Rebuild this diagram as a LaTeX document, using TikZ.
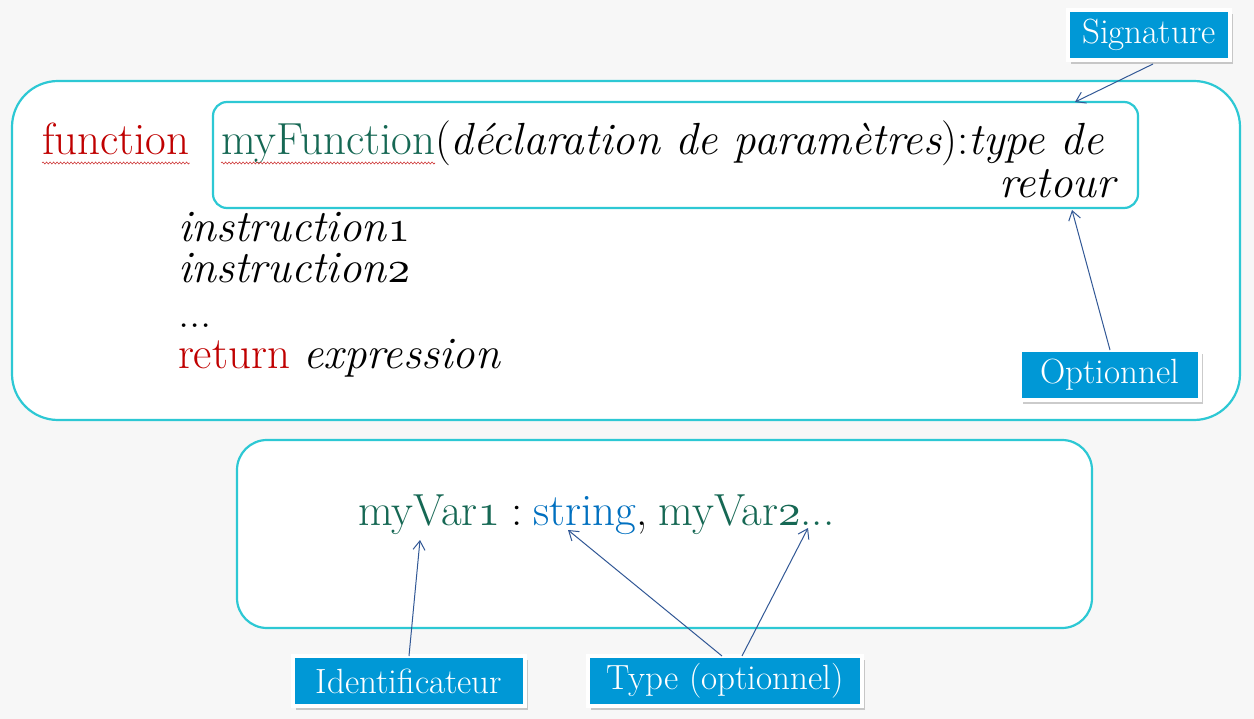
\documentclass[tikz,border=0pt]{standalone}
\usepackage{fontspec}
\usetikzlibrary{arrows.meta,shadows,calc,decorations.pathmorphing}
\definecolor{bgray}{RGB}{247,247,247}
\definecolor{frame}{RGB}{45,200,212}
\definecolor{kwred}{RGB}{192,0,0}
\definecolor{idgreen}{RGB}{22,104,84}
\definecolor{tyblue}{RGB}{0,112,192}
\definecolor{lblblue}{RGB}{0,152,214}
\definecolor{arrblue}{RGB}{50,88,150}
% old-style digits, scalable to any size
\DeclareFontShape{OML}{cmm}{m}{it}{<->cmmi10}{}
\newcommand{\osd}[1]{{\usefont{OML}{cmm}{m}{it}#1}}
\tikzset{
  every node/.style={inner sep=0pt, outer sep=0pt},
  panel/.style={draw=frame, line width=2.2pt, fill=white},
  sigframe/.style={draw=frame, line width=2.2pt, rounded corners=14pt},
  lbl/.style={fill=lblblue, draw=white, line width=3.5pt, text=white,
    font=\fontsize{35}{40}\selectfont, inner xsep=12pt,
    minimum height=50pt,
    drop shadow={shadow xshift=3pt, shadow yshift=-4pt, fill=black!40, opacity=0.5}},
  arr/.style={draw=arrblue, line width=1pt, -{Straight Barb[length=9pt,width=12pt]}},
  code/.style={anchor=base west, font=\fontsize{45}{50}\selectfont},
  squiggle/.style={draw=kwred!80, line width=0.6pt,
    decorate, decoration={snake, amplitude=1pt, segment length=3.5pt}}
}
\begin{document}
\begin{tikzpicture}[x=1pt,y=-1pt]
  \useasboundingbox (0,0) rectangle (1254,719);
  \fill[bgray] (0,0) rectangle (1254,719);

  % function panel
  \draw[panel, rounded corners=46pt] (12,81) rectangle (1240,420);
  \node[sigframe, minimum width=925pt, minimum height=106pt] (sig) at (675.5,155) {};

  % signature line
  \node[code, text=kwred] (fn) at (42,155) {function};
  \node[code, text=idgreen] (mf) at (221,155) {myFunction};
  \node[code] (params) at (mf.base east)
    {(\textit{déclaration de paramètres}):\textit{type de}};
  \node[code, anchor=base east] (ret) at (1118,198) {\textit{retour}};
  \draw[squiggle] ($(fn.base west)+(0,8)$) -- ($(fn.base east)+(0,8)$);
  \draw[squiggle] ($(mf.base west)+(0,8)$) -- ($(mf.base east)+(0,8)$);

  % body
  \node[code] (i1) at (178,242) {\textit{instruction}\osd{1}};
  \node[code] (i2) at (178,283) {\textit{instruction}\osd{2}};
  \node[code] (dots) at (178,328) {...};
  \node[code] (rt) at (178,369) {\textcolor{kwred}{return} \textit{expression}};

  % declaration panel
  \draw[panel, rounded corners=30pt] (237,440) rectangle (1092,628);
  \node[code, text=idgreen] (v1) at (358,525) {myVar\osd{1}};
  \node[code] (col) at ($(v1.base east)+(11,0)$) {:};
  \node[code, text=tyblue] (st) at ($(col.base east)+(11,0)$) {string};
  \node[code] (cm) at (st.base east) {,};
  \node[code, text=idgreen] (v2) at ($(cm.base east)+(11,0)$) {myVar\osd{2}...};

  % callout labels
  \node[lbl, minimum width=162pt] (siglbl) at (1149,35) {Signature};
  \node[lbl, minimum width=180pt] (optlbl) at (1110,375) {Optionnel};
  \node[lbl, minimum width=232pt] (idlbl) at (409,681) {Identificateur};
  \node[lbl, minimum width=274pt] (tylbl) at (725,681) {Type (optionnel)};

  % connectors
  \coordinate (sigtop) at ($(sig.north east)+(-63,0)$);
  \coordinate (sigbot) at ($(sig.south east)+(-66,2)$);
  \draw[arr] ($(siglbl.south)+(4,4)$) -- (sigtop);
  \draw[arr] (optlbl.north) -- (sigbot);
  \coordinate (v1tip) at (420,540);
  \coordinate (sttip) at (568,530);
  \coordinate (v2tip) at (808,528);
  \draw[arr] (idlbl.north) -- (v1tip);
  \draw[arr] ($(tylbl.north)+(-3,0)$) -- (sttip);
  \draw[arr] ($(tylbl.north)+(17,0)$) -- (v2tip);
\end{tikzpicture}
\end{document}
